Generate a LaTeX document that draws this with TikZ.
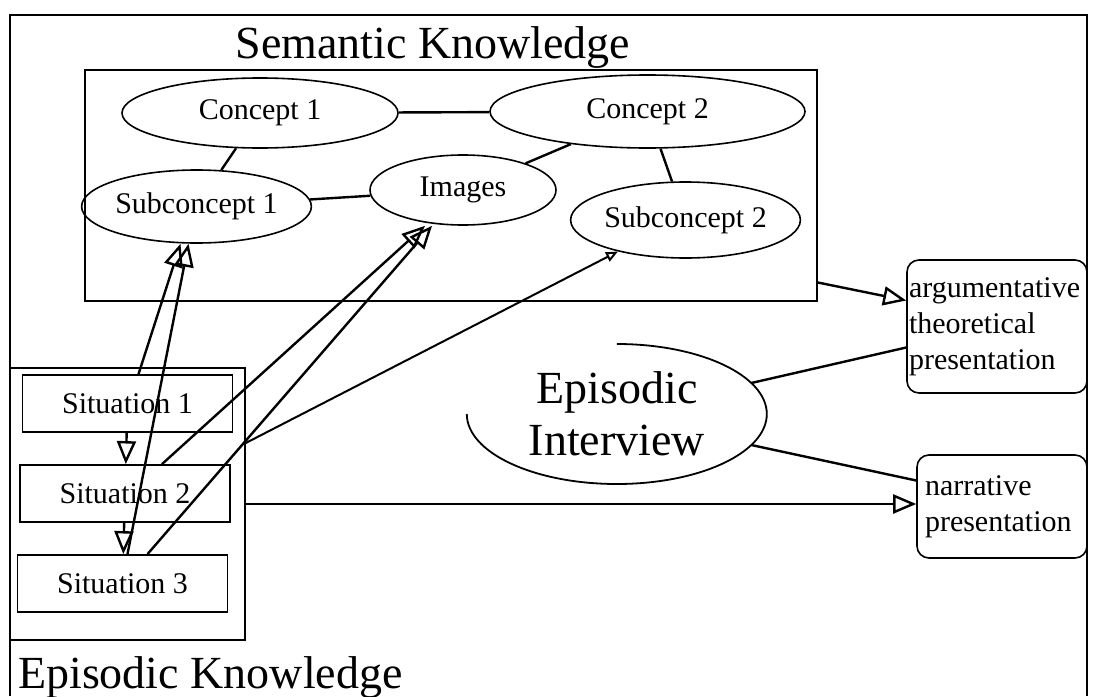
\documentclass[tikz,border=0pt]{standalone}
\usepackage{fontspec}
\setmainfont{Liberation Serif}
\usetikzlibrary{shapes.geometric,arrows.meta,positioning,calc}

\begin{document}
\begin{tikzpicture}[x=1pt,y=-1pt,
    every node/.style={font=\fontsize{30}{36}\selectfont},
    bigtext/.style={font=\fontsize{46}{52}\selectfont},
    frame/.style={draw, line width=1.6pt, inner sep=0pt},
    concept/.style={draw, ellipse, line width=1.6pt, inner sep=0pt},
    sitbox/.style={draw, rectangle, line width=1.8pt, minimum width=210pt, minimum height=57pt, inner sep=0pt},
    presbox/.style={draw, rectangle, rounded corners=12pt, line width=1.6pt, align=left, inner ysep=0pt},
    link/.style={line width=2.4pt},
    openarrow/.style={line width=2.4pt, -{Triangle[open,length=23pt,width=19pt]}},
    smallarrow/.style={line width=2pt, -{Triangle[open,length=12pt,width=10pt]}}]
    \useasboundingbox (0,0) rectangle (1094,696);

    % Rahmen
    \draw[line width=1.6pt] (10,696) |- (1087,15) -- (1087,696);

    % Semantisches Wissen
    \node[bigtext, anchor=base, inner sep=0pt] (semtitle) at (433,58) {Semantic Knowledge};
    \node[frame, minimum width=732pt, minimum height=231pt] (sem) at (451,185.5) {};
    \node[concept, minimum width=276pt, minimum height=70pt] (c1) at (260,113) {\raisebox{4pt}{Concept 1}};
    \node[concept, minimum width=315pt, minimum height=73pt] (c2) at (647.5,111.5) {\raisebox{6pt}{Concept 2}};
    \node[concept, minimum width=217pt, minimum height=73pt] (sub1) at (196.5,206.5) {\raisebox{4pt}{Subconcept 1}};
    \node[concept, minimum width=186pt, minimum height=70pt] (img) at (463,190) {\raisebox{4pt}{Images}};
    \node[concept, minimum width=229pt, minimum height=76pt] (sub2) at (685.5,220) {\raisebox{1pt}{Subconcept 2}};

    \draw[link] (c1) -- (c2);
    \draw[link] (c1) -- (sub1);
    \draw[link] (sub1) -- (img);
    \draw[link] (img) -- (c2);
    \draw[link] (c2) -- (sub2);

    % Episodisches Wissen
    \node[frame, minimum width=235pt, minimum height=272pt] (epi) at (127.5,504) {};
    \node[sitbox] (sit1) at (127.5,403.5) {Situation 1};
    \node[sitbox] (sit2) at (125,493.5) {Situation 2};
    \node[sitbox] (sit3) at (122.5,583.5) {Situation 3};
    \node[bigtext, anchor=base west, inner sep=0pt] (epititle) at (18,688) {Episodic Knowledge};

    \draw[openarrow] (sit1) -- (sit2);
    \draw[openarrow] (sit2) -- (sit3);
    \draw[openarrow] ([xshift=11pt]sit1.north) -- ([xshift=-16pt]sub1.south);
    \draw[openarrow] ([xshift=5pt]sit3.north) -- ([xshift=-8pt]sub1.south);
    \draw[openarrow] ([xshift=37pt]sit2.north) -- ([xshift=-38pt]img.south);
    \draw[openarrow] ([xshift=25pt]sit3.north) -- ([xshift=-31pt]img.south);
    \coordinate (branch) at ([yshift=61pt]epi.east);
    \draw[smallarrow] (branch) -- (sub2.205);

    % Interview und Darstellungen
    \node[ellipse, minimum width=300pt, minimum height=140pt, inner sep=0pt, align=center, bigtext] (iv) at (617,414) {Episodic\\Interview};
    \draw[line width=1.8pt] (iv.west) arc[start angle=180, end angle=450, x radius=150pt, y radius=70pt];

    \node[presbox, text width=176pt, inner xsep=2pt, minimum height=133pt] (arg) at (997,326.5) {argumentative\\theoretical\\presentation};
    \node[presbox, text width=154pt, inner xsep=8pt, minimum height=103pt] (narr) at (1002,506.5) {narrative\\presentation};

    \draw[openarrow] ([yshift=-97pt]sem.east) -- ([yshift=26pt]arg.west);
    \draw[link] (iv.13) -- ([yshift=-21pt]arg.west);
    \draw[link] (iv.-13) -- ([yshift=26pt]narr.west);
    \draw[openarrow] (epi.east) -- (epi.east -| narr.west);
\end{tikzpicture}
\end{document}
